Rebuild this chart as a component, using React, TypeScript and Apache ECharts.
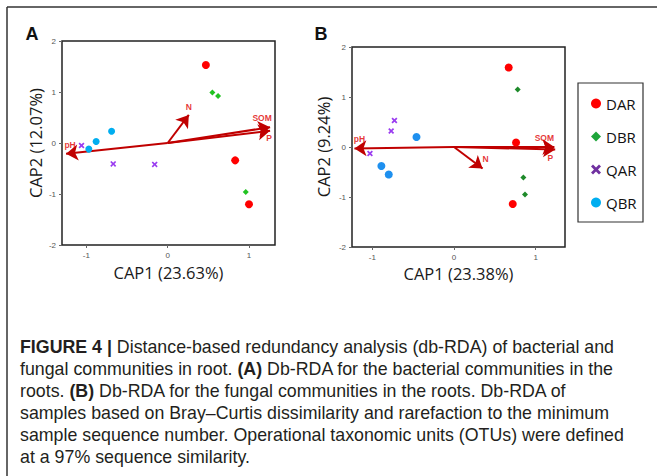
import React, { useEffect, useRef } from "react";
import * as echarts from "echarts";

// ---------- data ----------
const groups = ["DAR", "DBR", "QAR", "QBR"];
const xTickValues = [-1, 0, 1];
const yTickValues = [-2, -1, 0, 1, 2];

// Panel A (bacteria)
const aDAR = [[0.47, 1.53], [0.83, -0.34], [1.0, -1.2]];
const aDBR = [[0.55, 0.99], [0.62, 0.92], [0.96, -0.96]];
const aQAR = [[-1.06, -0.05], [-0.67, -0.41], [-0.16, -0.42]];
const aQBR = [[-0.97, -0.12], [-0.88, 0.03], [-0.69, 0.23]];
const aVectorNames = ["pH", "SOM", "P", "N"];
const aVectorEnds = [[-1.25, -0.21], [1.26, 0.31], [1.26, 0.24], [0.26, 0.55]];

// Panel B (fungi)
const bDAR = [[0.67, 1.59], [0.76, 0.09], [0.72, -1.14]];
const bDBR = [[0.78, 1.15], [0.85, -0.61], [0.87, -0.95]];
const bQAR = [[-0.73, 0.53], [-0.77, 0.32], [-1.03, -0.13]];
const bQBR = [[-0.46, 0.2], [-0.89, -0.38], [-0.8, -0.55]];
const bVectorNames = ["pH", "SOM", "P", "N"];
const bVectorEnds = [[-1.22, -0.03], [1.23, 0.0], [1.24, -0.05], [0.35, -0.43]];

const xNameA = "CAP1 (23.63%)";
const yNameA = "CAP2 (12.07%)";
const xNameB = "CAP1 (23.38%)";
const yNameB = "CAP2 (9.24%)";

const captionLines = [
  "{b|FIGURE 4 |} Distance-based redundancy analysis (db-RDA) of bacterial and",
  "fungal communities in root. {b|(A)} Db-RDA for the bacterial communities in the",
  "roots. {b|(B)} Db-RDA for the fungal communities in the roots. Db-RDA of",
  "samples based on Bray\u2013Curtis dissimilarity and rarefaction to the minimum",
  "sample sequence number. Operational taxonomic units (OTUs) were defined",
  "at a 97% sequence similarity.",
];

// ---------- styles ----------
const X_PATH =
  "path://M0,2 L2,0 L5,3 L8,0 L10,2 L7,5 L10,8 L8,10 L5,7 L2,10 L0,8 L3,5 Z";
const arrowColor = "#c00000";
const labelColor = "#e00000";
const styleA: Record<string, any> = {
  DAR: { color: "#ff0000", symbol: "circle", size: 8 },
  DBR: { color: "#22c322", symbol: "diamond", size: 6 },
  QAR: { color: "#9a3cf0", symbol: X_PATH, size: 6 },
  QBR: { color: "#00aef0", symbol: "circle", size: 7 },
};
const styleB: Record<string, any> = {
  DAR: { color: "#ff0000", symbol: "circle", size: 8 },
  DBR: { color: "#1e8a2a", symbol: "diamond", size: 6 },
  QAR: { color: "#9a3cf0", symbol: X_PATH, size: 6 },
  QBR: { color: "#1e90ef", symbol: "circle", size: 8 },
};
const legendStyle: Record<string, any> = {
  DAR: { color: "#ff0000", icon: "circle" },
  DBR: { color: "#1ea53a", icon: "diamond" },
  QAR: { color: "#7030a0", icon: X_PATH },
  QBR: { color: "#00aef0", icon: "circle" },
};
const labelOffsetsA: Record<string, number[]> = {
  pH: [4, -9], SOM: [-8, -9], P: [-1, 7], N: [0, -8],
};
const labelOffsetsB: Record<string, number[]> = {
  pH: [5, -10], SOM: [-10, -9], P: [-5, 8], N: [3, -10],
};

function buildPanel(idx: number, pts: Record<string, number[][]>, st: Record<string, any>,
  names: string[], ends: number[][], offsets: Record<string, number[]>) {
  const series: any[] = [];
  series.push({
    type: "lines",
    coordinateSystem: "cartesian2d",
    xAxisIndex: idx,
    yAxisIndex: idx,
    symbol: ["none", "arrow"],
    symbolSize: 12,
    lineStyle: { color: arrowColor, width: 2, opacity: 1, curveness: 0 },
    data: ends.map((e) => ({ coords: [[0, 0], e] })),
    z: 3,
    silent: true,
  });
  series.push({
    type: "scatter",
    xAxisIndex: idx,
    yAxisIndex: idx,
    symbolSize: 0,
    silent: true,
    z: 4,
    data: names.map((n, i) => ({
      name: n,
      value: ends[i],
      label: { offset: offsets[n] },
    })),
    label: {
      show: true,
      position: "inside",
      formatter: "{b}",
      color: labelColor,
      fontSize: 8.5,
      fontWeight: "bold",
      fontFamily: "Liberation Sans, Arial, sans-serif",
    },
  });
  groups.forEach((g) => {
    series.push({
      name: g,
      type: "scatter",
      xAxisIndex: idx,
      yAxisIndex: idx,
      symbol: st[g].symbol,
      symbolSize: st[g].size,
      itemStyle: { color: st[g].color, opacity: 1 },
      data: pts[g],
      z: 5,
    });
  });
  return series;
}

export default function App() {
  const ref = useRef<HTMLDivElement>(null);
  useEffect(() => {
    document.body.style.margin = "0";
    const chart = echarts.init(ref.current!, null, { renderer: "svg" });

    const nameStyle = { fontSize: 16.5, color: "#1a1a1a", fontFamily: "Open Sans, sans-serif" };
    const xAxisCommon = (min: number, max: number, name: string, gap: number) => ({
      type: "value",
      min,
      max,
      name,
      nameLocation: "middle",
      nameGap: gap,
      nameTextStyle: nameStyle,
      axisLine: { show: false, onZero: false },
      splitLine: { show: false },
      axisTick: { show: true, length: 3, lineStyle: { color: "#666" }, customValues: xTickValues },
      axisLabel: { fontSize: 8, color: "#555", margin: 6, customValues: xTickValues, fontFamily: "Liberation Sans, sans-serif" },
    });
    const yAxisCommon = (name: string, gap: number) => ({
      type: "value",
      min: -2,
      max: 2,
      interval: 1,
      name,
      nameLocation: "middle",
      nameGap: gap,
      nameTextStyle: nameStyle,
      axisLine: { show: false, onZero: false },
      splitLine: { show: false },
      axisTick: { show: true, length: 3, lineStyle: { color: "#666" }, customValues: yTickValues },
      axisLabel: { fontSize: 8, color: "#555", margin: 6, customValues: yTickValues, fontFamily: "Liberation Sans, sans-serif" },
    });

    const series = [
      ...buildPanel(0, { DAR: aDAR, DBR: aDBR, QAR: aQAR, QBR: aQBR }, styleA, aVectorNames, aVectorEnds, labelOffsetsA),
      ...buildPanel(1, { DAR: bDAR, DBR: bDBR, QAR: bQAR, QBR: bQBR }, styleB, bVectorNames, bVectorEnds, labelOffsetsB),
    ];

    const capFont = 17.8;
    const captionGraphics = captionLines.map((line, i) => ({
      type: "text",
      left: 20,
      top: 338 + i * 22,
      style: {
        text: line,
        fill: "#231f20",
        fontSize: capFont,
        fontFamily: "Liberation Sans, Arial, sans-serif",
        rich: {
          b: { fontWeight: "bold", fontSize: capFont, fill: "#231f20", fontFamily: "Liberation Sans, Arial, sans-serif" },
        },
      },
    }));

    chart.setOption({
      animation: false,
      backgroundColor: "#fff",
      grid: [
        { left: 62, top: 41, width: 213, height: 204, show: true, borderColor: "#222", borderWidth: 1.5, containLabel: false },
        { left: 352, top: 47, width: 213, height: 200, show: true, borderColor: "#222", borderWidth: 1.5, containLabel: false },
      ],
      xAxis: [
        { ...xAxisCommon(-1.3, 1.32, xNameA, 19), gridIndex: 0 },
        { ...xAxisCommon(-1.25, 1.36, xNameB, 18), gridIndex: 1 },
      ],
      yAxis: [
        { ...yAxisCommon(yNameA, 18), gridIndex: 0 },
        { ...yAxisCommon(yNameB, 20), gridIndex: 1 },
      ],
      legend: {
        orient: "vertical",
        left: 586,
        top: 91,
        itemWidth: 10,
        itemHeight: 10,
        itemGap: 18,
        textStyle: { fontSize: 15, color: "#111", fontFamily: "Open Sans, sans-serif", padding: [0, 0, 0, 0] },
        selectedMode: false,
        data: groups.map((g) => ({
          name: g,
          icon: legendStyle[g].icon,
          itemStyle: { color: legendStyle[g].color },
        })),
      },
      graphic: [
        { type: "line", shape: { x1: 7, y1: 7, x2: 657, y2: 7 }, style: { stroke: "#333", lineWidth: 1.5 } },
        { type: "line", shape: { x1: 7, y1: 7, x2: 7, y2: 476 }, style: { stroke: "#333", lineWidth: 1.5 } },
        { type: "rect", shape: { x: 578, y: 83, width: 65, height: 139 }, style: { fill: "none", stroke: "#333", lineWidth: 1.2 } },
        { type: "text", x: 32, y: 34, style: { text: "A", fontSize: 18, fontWeight: "bold", fill: "#111", align: "center", verticalAlign: "middle", fontFamily: "Liberation Sans, Arial, sans-serif" } },
        { type: "text", x: 321, y: 34, style: { text: "B", fontSize: 18, fontWeight: "bold", fill: "#111", align: "center", verticalAlign: "middle", fontFamily: "Liberation Sans, Arial, sans-serif" } },
        ...captionGraphics,
      ],
      series,
    });
    return () => chart.dispose();
  }, []);
  return <div ref={ref} style={{ width: 657, height: 476 }} />;
}
